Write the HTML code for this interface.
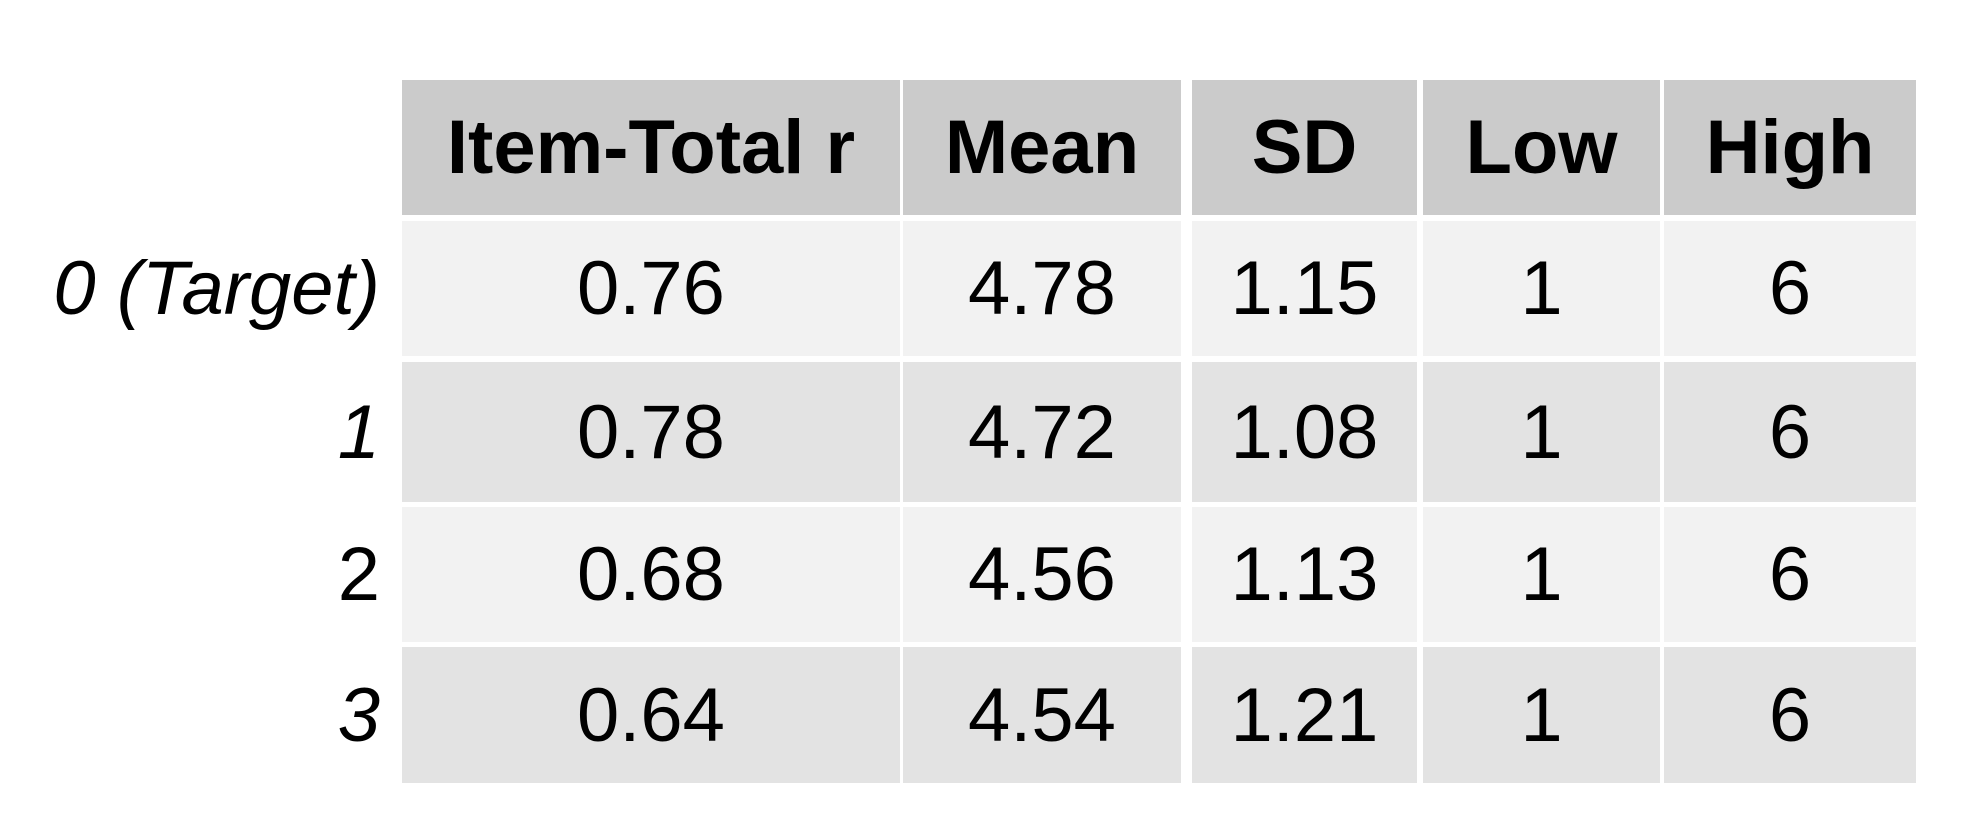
<!DOCTYPE html>
<html><head><meta charset="utf-8"><style>
body{margin:0;width:1986px;height:834px;background:#fff;position:relative;overflow:hidden;font-family:"Liberation Sans",Arial,sans-serif;}
.c{position:absolute;display:flex;align-items:center;justify-content:center;font-size:76px;color:#000;}
.h{background:#cbcbcb;font-weight:bold;}
.o{background:#f2f2f2;}
.e{background:#e3e3e3;}
.l{position:absolute;font-size:76px;font-style:italic;text-align:right;width:380px;left:0;display:flex;align-items:center;justify-content:flex-end;}
</style></head><body>
<script>
const cols=["Item-Total r","Mean","SD","Low","High"];
const rowLabels=["0 (Target)","1","2","3"];
const itemTotal=["0.76","0.78","0.68","0.64"];
const means=["4.78","4.72","4.56","4.54"];
const sds=["1.15","1.08","1.13","1.21"];
const lows=["1","1","1","1"];
const highs=["6","6","6","6"];
const xs=[[402,900],[903,1181],[1192,1417],[1423,1660],[1664,1916]];
const ys=[[80,215],[221,356],[362,502],[507,642],[647,783]];
const data=[itemTotal,means,sds,lows,highs];
const names=["item-total-r","mean","sd","low","high"];
cols.forEach((t,i)=>{
 const d=document.createElement('div');d.className='c h';
 
 
 d.style.cssText=`left:${xs[i][0]}px;width:${xs[i][1]-xs[i][0]}px;top:${ys[0][0]}px;height:${ys[0][1]-ys[0][0]}px`;
 d.textContent=t;document.body.appendChild(d);
});
rowLabels.forEach((r,j)=>{
 const y=ys[j+1];
 const l=document.createElement('div');l.className='l';
 
 
 l.style.cssText=`top:${y[0]}px;height:${y[1]-y[0]}px;`;
 if(j===2)l.style.fontStyle='normal';
 l.textContent=r;document.body.appendChild(l);
 data.forEach((arr,i)=>{
  const d=document.createElement('div');d.className='c '+(j%2?'e':'o');
  
  
  d.style.cssText=`left:${xs[i][0]}px;width:${xs[i][1]-xs[i][0]}px;top:${y[0]}px;height:${y[1]-y[0]}px`;
  d.textContent=arr[j];document.body.appendChild(d);
 });
});
</script>
</body></html>
